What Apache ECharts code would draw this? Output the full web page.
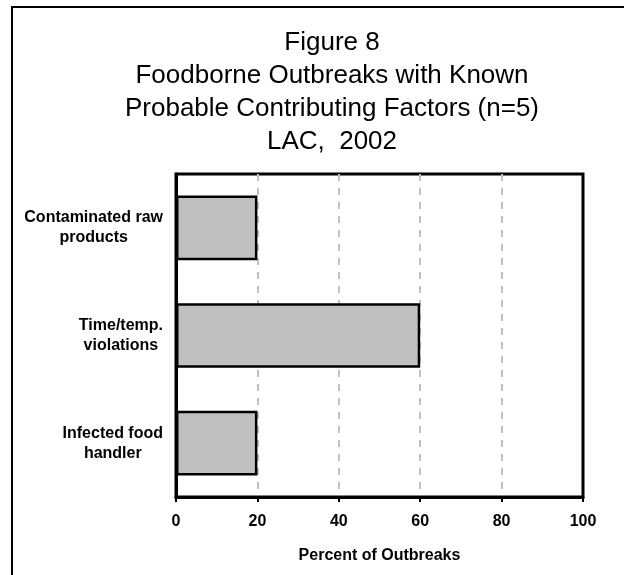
<!DOCTYPE html>
<html>
<head>
<meta charset="utf-8">
<script src="https://cdn.jsdelivr.net/npm/echarts@6/dist/echarts.min.js"></script>
<style>
html,body{margin:0;padding:0;background:#fff;}
#chart{width:624px;height:575px;}
</style>
</head>
<body>
<div id="chart"></div>
<script>
const titleLines = ['Figure 8', 'Foodborne Outbreaks with Known', 'Probable Contributing Factors (n=5)', 'LAC,  2002'];
const categories = ['Contaminated raw\nproducts', 'Time/temp.\nviolations', 'Infected food\nhandler'];
const percentValues = [20, 60, 20];
const xTicks = [0, 20, 40, 60, 80, 100];
const xAxisTitle = 'Percent of Outbreaks';

const FONT = "'Liberation Sans', Arial, sans-serif";
const chart = echarts.init(document.getElementById('chart'), null, {renderer: 'canvas'});
chart.setOption({
  backgroundColor: '#fff',
  animation: false,
  title: {
    text: titleLines.join('\n'),
    left: 332,
    textAlign: 'center',
    top: 26,
    padding: 0,
    textStyle: {fontFamily: FONT, fontSize: 26, fontWeight: 'normal', lineHeight: 33, color: '#000'}
  },
  graphic: [{
    type: 'rect',
    shape: {x: 12, y: 7, width: 700, height: 700},
    style: {fill: 'none', stroke: '#000', lineWidth: 2},
    silent: true
  }],
  grid: {
    left: 176, right: 41, top: 174, bottom: 78,
    show: true, borderColor: '#000', borderWidth: 3, backgroundColor: 'transparent'
  },
  xAxis: {
    type: 'value',
    min: xTicks[0], max: xTicks[xTicks.length - 1], interval: 20,
    name: xAxisTitle,
    nameLocation: 'middle',
    nameGap: 51,
    nameTextStyle: {fontFamily: FONT, fontSize: 16, fontWeight: 'bold', color: '#000'},
    axisLine: {show: true, lineStyle: {color: '#000', width: 3}},
    axisTick: {show: true, length: 5, lineStyle: {color: '#000', width: 2}},
    axisLabel: {fontFamily: FONT, fontSize: 16, fontWeight: 'bold', color: '#000', margin: 17},
    splitLine: {show: true, showMinLine: false, showMaxLine: false, lineStyle: {color: '#c0c0c0', width: 2, type: [7, 7]}}
  },
  yAxis: {
    type: 'category',
    data: categories,
    inverse: true,
    axisLine: {show: true, lineStyle: {color: '#000', width: 3}},
    axisTick: {show: false},
    axisLabel: {
      margin: 13,
      formatter: function (v) { return v.split('\n').map(s => '{a|' + s + '}').join('\n'); },
      rich: {a: {fontFamily: FONT, fontSize: 16, fontWeight: 'bold', color: '#000', lineHeight: 20, align: 'center'}}
    },
    splitLine: {show: false}
  },
  series: [{
    type: 'bar',
    data: percentValues,
    barWidth: '60%',
    itemStyle: {color: '#c0c0c0', borderColor: '#000', borderWidth: 2.5}
  }]
});
</script>
</body>
</html>
